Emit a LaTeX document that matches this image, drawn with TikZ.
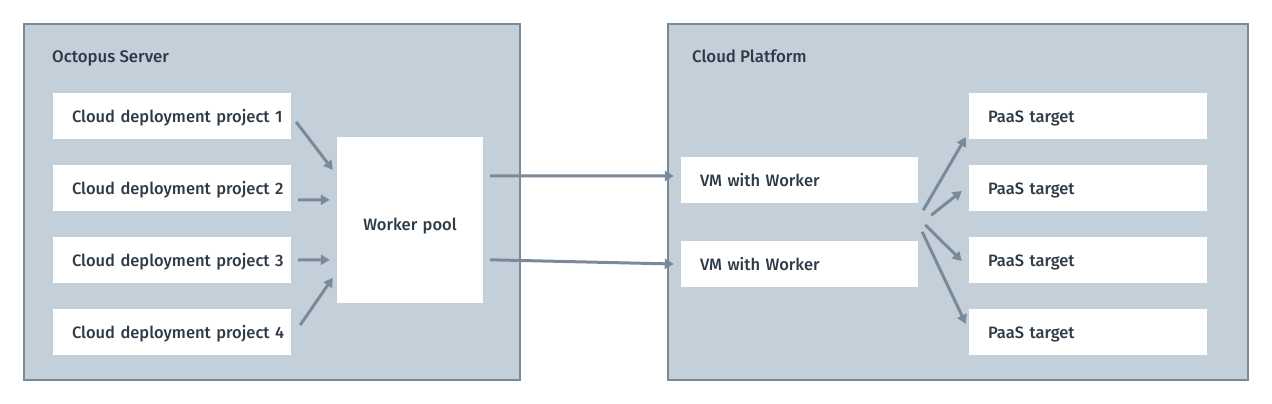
\documentclass[tikz,border=0pt]{standalone}
\usepackage{fontspec}
\setmainfont{Fira Sans}[UprightFont=* Medium]
\usetikzlibrary{arrows.meta}
\definecolor{panelfill}{HTML}{C3D0D9}
\definecolor{paneledge}{HTML}{7B8A98}
\definecolor{ink}{HTML}{2D3A47}
\tikzstyle{panel}=[draw=paneledge, line width=1.5pt, fill=panelfill]
\tikzstyle{title}=[anchor=west, inner sep=0pt, text=ink, font=\fontsize{16.8}{20}\selectfont, text height=13pt, text depth=0pt]
\tikzstyle{item}=[fill=white, text=ink, font=\fontsize{16.5}{20}\selectfont, text height=13pt, text depth=0pt, text width=200pt, inner xsep=19pt, inner ysep=0pt, align=left, minimum height=46pt, execute at begin node=\hbox\bgroup, execute at end node=\egroup]
\tikzstyle{flow}=[draw=paneledge, line width=3pt, -{Triangle[length=9pt,width=10pt]}]

\begin{document}
\begin{tikzpicture}[x=1pt, y=-1pt]
	\useasboundingbox[fill=white] (0,0) rectangle (1272,404);
	\draw[panel] (24,24) rectangle (520,380);
	\draw[panel] (668,24) rectangle (1248,380);
	\node[title] (server) at (52,56) {Octopus Server};
	\node[title] (cloud) at (692,56) {Cloud Platform};
	\node[item] (p1) at (172,116) {Cloud deployment project 1};
	\node[item] (p2) at (172,188) {Cloud deployment project 2};
	\node[item] (p3) at (172,260) {Cloud deployment project 3};
	\node[item] (p4) at (172,332) {Cloud deployment project 4};
	\node[item, text width=146pt, inner xsep=0pt, minimum height=166pt, text height=20pt, align=center, execute at begin node=, execute at end node=] (pool) at (410,220) {Worker pool};
	\node[item, text width=199pt] (vm1) at (799.5,180) {VM with Worker};
	\node[item, text width=199pt] (vm2) at (799.5,264) {VM with Worker};
	\node[item] (t1) at (1088,116) {PaaS target};
	\node[item] (t2) at (1088,188) {PaaS target};
	\node[item] (t3) at (1088,260) {PaaS target};
	\node[item] (t4) at (1088,332) {PaaS target};
	% projects into the pool
	\draw[flow] ([shift={(5,6)}]p1.east) -- ([shift={(-4,33)}]pool.north west);
	\draw[flow] ([shift={(7,12)}]p2.east) -- ([shift={(-7,63)}]pool.north west);
	\draw[flow] ([shift={(7,0)}]p3.east) -- ([shift={(-7,123)}]pool.north west);
	\draw[flow] ([shift={(9,-7)}]p4.east) -- ([shift={(-4,141)}]pool.north west);
	% pool to the VMs
	\draw[flow] ([shift={(7,39)}]pool.north east) -- ([shift={(-7,-4)}]vm1.west);
	\draw[flow] ([shift={(7,123)}]pool.north east) -- ([shift={(-7,0)}]vm2.west);
	% VMs to the targets
	\draw[flow] ([shift={(5,7)}]vm1.south east) -- ([shift={(-3,-2)}]t1.south west);
	\draw[flow] ([shift={(13,12)}]vm1.south east) -- ([shift={(-7,3)}]t2.west);
	\draw[flow] ([shift={(7,-16)}]vm2.north east) -- ([shift={(-7,1)}]t3.west);
	\draw[flow] ([shift={(4,-9)}]vm2.north east) -- ([shift={(-3,15)}]t4.north west);
\end{tikzpicture}
\end{document}
